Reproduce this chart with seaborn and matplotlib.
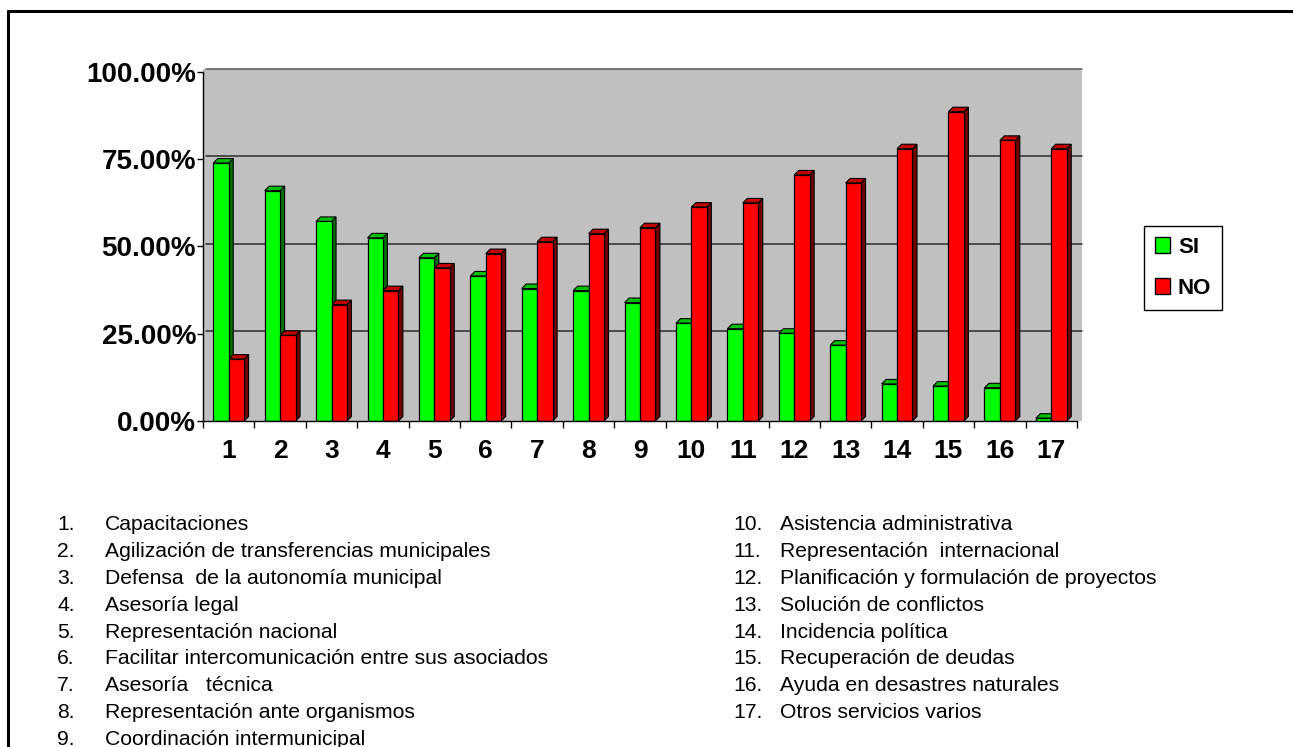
import numpy as np
import pandas as pd
import matplotlib
matplotlib.use("Agg")
import matplotlib.pyplot as plt
import seaborn as sns
from matplotlib.patches import Polygon, Rectangle, Patch
from matplotlib.lines import Line2D
import matplotlib.transforms as mtransforms

# ---------------- data ----------------
categories = [str(i) for i in range(1, 18)]
si_values = [73.8, 65.9, 57.1, 52.4, 46.7, 41.5, 37.9, 37.3, 33.9,
             28.0, 26.4, 25.1, 21.7, 10.6, 10.0, 9.5, 0.8]
no_values = [17.7, 24.5, 33.3, 37.3, 43.8, 47.9, 51.3, 53.6, 55.3,
             61.2, 62.4, 70.4, 68.1, 77.9, 88.5, 80.3, 77.9]
series = ["SI", "NO"]
y_ticks = [0, 25, 50, 75, 100]
items_left = [
    "Capacitaciones",
    "Agilización de transferencias municipales",
    "Defensa  de la autonomía municipal",
    "Asesoría legal",
    "Representación nacional",
    "Facilitar intercomunicación entre sus asociados",
    "Asesoría   técnica",
    "Representación ante organismos",
    "Coordinación intermunicipal",
]
items_right = [
    "Asistencia administrativa",
    "Representación  internacional",
    "Planificación y formulación de proyectos",
    "Solución de conflictos",
    "Incidencia política",
    "Recuperación de deudas",
    "Ayuda en desastres naturales",
    "Otros servicios varios",
]

front_colors = {"SI": "#00FF00", "NO": "#FF0000"}
side_colors = {"SI": "#007000", "NO": "#700000"}
top_colors = {"SI": "#00C000", "NO": "#C00000"}

# ---------------- figure ----------------
sns.set_theme(style="white")
plt.rcParams['font.family'] = ['Liberation Sans', 'DejaVu Sans']
plt.rcParams['text.color'] = 'black'
plt.rcParams['xtick.color'] = 'black'
plt.rcParams['ytick.color'] = 'black'
plt.rcParams['axes.labelcolor'] = 'black'

W, H = 1293, 747
fig = plt.figure(figsize=(W / 100, H / 100), dpi=100)
fig.patch.set_facecolor("white")

ax_l, ax_r, ax_b, ax_t = 203, 1077, 421, 71.5
ax = fig.add_axes([ax_l / W, 1 - ax_b / H, (ax_r - ax_l) / W, (ax_b - ax_t) / H])
ax_wpx, ax_hpx = ax_r - ax_l, ax_b - ax_t

df = pd.DataFrame({
    "cat": categories * 2,
    "serie": [series[0]] * len(categories) + [series[1]] * len(categories),
    "val": si_values + no_values,
})

sns.barplot(data=df, x="cat", y="val", hue="serie", hue_order=series,
            palette=front_colors, width=0.6, saturation=1,
            edgecolor="black", linewidth=0.9, ax=ax, legend=False, zorder=3)

ax.set_xlim(-0.5, len(categories) - 0.5)
ax.set_ylim(0, 100)
ax.set_facecolor("none")

# back wall (3D look) offset a few pixels up/right
dpx = 4.5
wall = Rectangle((0, 0), 1 + 5 / ax_wpx, 1 + 2.5 / ax_hpx, transform=ax.transAxes,
                 facecolor="#C0C0C0", edgecolor="none", zorder=0, clip_on=False)
ax.add_patch(wall)
grid_tr = mtransforms.offset_copy(
    mtransforms.blended_transform_factory(ax.transAxes, ax.transData),
    fig=fig, x=3, y=2.5, units="dots")
for v in y_ticks[1:]:
    ax.add_line(Line2D([0, 1 + 2 / ax_wpx], [v, v], transform=grid_tr,
                       color="#2a2a2a" if v < 100 else "#555555",
                       lw=1.1, zorder=1, clip_on=False))

# 3D faces of bars, derived from the seaborn bar patches
ddx = dpx * (len(categories)) / ax_wpx
ddy = dpx * 100 / ax_hpx
bars = [p for p in ax.patches if isinstance(p, Rectangle) and p is not wall]
for i, p in enumerate(bars):
    s = series[0] if i < len(categories) else series[1]
    x0, w, h = p.get_x(), p.get_width(), p.get_height()
    side = Polygon([(x0 + w, 0), (x0 + w + ddx, ddy), (x0 + w + ddx, h + ddy), (x0 + w, h)],
                   closed=True, facecolor=side_colors[s], edgecolor="black", lw=0.8, zorder=2.5,
                   clip_on=False)
    top = Polygon([(x0, h), (x0 + ddx, h + ddy), (x0 + w + ddx, h + ddy), (x0 + w, h)],
                  closed=True, facecolor=top_colors[s], edgecolor="black", lw=0.8, zorder=2.5,
                  clip_on=False)
    ax.add_patch(side)
    ax.add_patch(top)

# axes styling
for sp in ["top", "right"]:
    ax.spines[sp].set_visible(False)
for sp in ["left", "bottom"]:
    ax.spines[sp].set_color("black")
    ax.spines[sp].set_linewidth(1.0)
    ax.spines[sp].set_zorder(4)

ax.set_yticks(y_ticks)
ax.set_yticklabels([f"{v:.2f}%" for v in y_ticks], fontsize=20, fontweight="bold",
                   color="black")
ax.tick_params(axis="y", which="major", direction="out", length=4, width=1, color="black",
               pad=1, left=True)
ax.set_xticks(range(len(categories)))
ax.set_xticklabels(categories, fontsize=19, fontweight="bold", color="black")
ax.set_xticks(np.arange(-0.5, len(categories), 1.0), minor=True)
ax.tick_params(axis="x", which="major", length=0, pad=13)
ax.tick_params(axis="x", which="minor", direction="out", length=5, width=1, color="black",
               bottom=True)
ax.set_xlabel("")
ax.set_ylabel("")
ax.grid(False)

# legend
handles = [Patch(facecolor=front_colors[s], edgecolor="black", label=s) for s in series]
leg = fig.legend(handles=handles, loc="center", bbox_to_anchor=(1183 / W, 1 - 268 / H),
                 frameon=True, fancybox=False, edgecolor="black", framealpha=1,
                 prop=dict(weight="bold", size=16), handlelength=0.7, handleheight=0.7,
                 handletextpad=0.35, labelspacing=0.9, borderpad=0.5, borderaxespad=0)
leg.get_frame().set_linewidth(1.0)
for t in leg.get_texts():
    t.set_color("black")

# list of services
base0, step = 530, 26.9
fs = 15.2
for i, t in enumerate(items_left):
    y = 1 - (base0 + i * step) / H
    fig.text(57 / W, y, f"{i + 1}.", fontsize=fs, va="baseline", ha="left", color="black")
    fig.text(105 / W, y, t, fontsize=fs, va="baseline", ha="left", color="black")
for j, t in enumerate(items_right):
    y = 1 - (base0 + j * step) / H
    fig.text(733 / W, y, f"{len(items_left) + j + 1}.", fontsize=fs, va="baseline",
             ha="left", color="black")
    fig.text(780 / W, y, t, fontsize=fs, va="baseline", ha="left", color="black")

# outer frame (top and left edges visible)
fig.add_artist(Line2D([8 / W, 1.0], [1 - 11 / H, 1 - 11 / H], transform=fig.transFigure,
                      color="black", lw=2.2))
fig.add_artist(Line2D([8 / W, 8 / W], [1 - 11 / H, 0.0], transform=fig.transFigure,
                      color="black", lw=2.2))

fig.savefig("out.png", dpi=100)
